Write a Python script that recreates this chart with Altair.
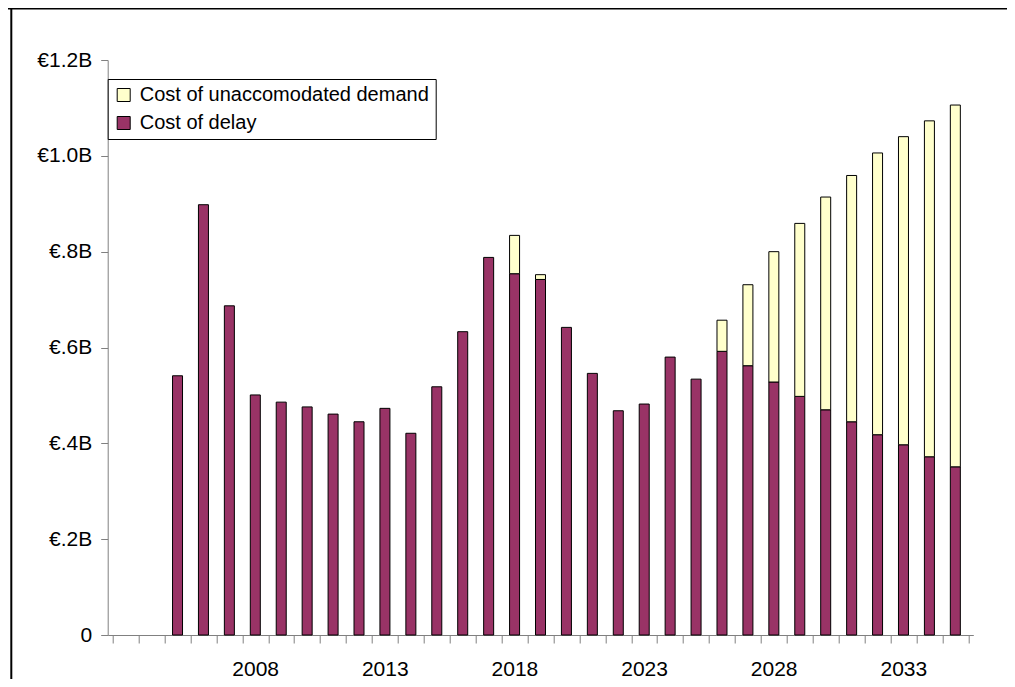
import json
import altair as alt
import pandas as pd

# ---- data (values in billions of euro) ----
years = list(range(2005, 2036))
delay = [0.541, 0.898, 0.687, 0.501, 0.486, 0.476, 0.461, 0.445, 0.473, 0.421,
         0.518, 0.633, 0.788, 0.754, 0.742, 0.642, 0.546, 0.468, 0.482, 0.580,
         0.534, 0.592, 0.562, 0.528, 0.498, 0.470, 0.445, 0.418, 0.397, 0.372,
         0.351]
unaccommodated = [0, 0, 0, 0, 0, 0, 0, 0, 0, 0,
                  0, 0, 0, 0.080, 0.010, 0, 0, 0, 0, 0,
                  0, 0.065, 0.169, 0.272, 0.361, 0.444, 0.514, 0.588, 0.643, 0.701,
                  0.755]
axis_years = list(range(2003, 2036))
label_years = [2008, 2013, 2018, 2023, 2028, 2033]
y_ticks = [0, 0.2, 0.4, 0.6, 0.8, 1.0, 1.2]
y_labels = ["0", "€.2B", "€.4B", "€.6B", "€.8B", "€1.0B", "€1.2B"]
series = ["Cost of unaccomodated demand", "Cost of delay"]
colors = ["#FFFFCC", "#993366"]

rows = []
for i, yr in enumerate(years):
    rows.append({"year": yr, "series": series[1], "value": delay[i], "stackorder": 0})
    rows.append({"year": yr, "series": series[0], "value": unaccommodated[i], "stackorder": 1})
df = pd.DataFrame(rows)

W = 865.6
H = 575
PAD_L, PAD_T = 99.7, 52
SVG_W, SVG_H = 999, 671
step = W / len(axis_years)
FONT = "Liberation Sans"
AXIS_GRAY = "#808080"

tick_vals = [y - 0.5 for y in axis_years] + [axis_years[-1] + 0.5]
x_label_expr = ("indexof(%s, datum.value - 0.5) >= 0 ? toString(datum.value - 0.5) : ''"
                % json.dumps(label_years))
y_label_expr = "%s[round(datum.value * 5)]" % json.dumps(y_labels, ensure_ascii=False)

bars = alt.Chart(df).transform_filter("datum.value > 0").mark_bar(
    size=10, stroke="black", strokeWidth=1
).encode(
    x=alt.X("year:Q",
            scale=alt.Scale(domain=[axis_years[0] - 0.5, axis_years[-1] + 0.5], nice=False, zero=False),
            axis=alt.Axis(values=tick_vals, labelExpr=x_label_expr, labelOffset=-step / 2,
                          tickSize=8, labelPadding=15, labelFlush=False, labelOverlap=False,
                          labelBound=False, title=None, grid=False,
                          domainColor=AXIS_GRAY, tickColor=AXIS_GRAY,
                          labelFont=FONT, labelFontSize=21, labelColor="black")),
    y=alt.Y("value:Q", stack="zero",
            scale=alt.Scale(domain=[0, 1.2], nice=False),
            axis=alt.Axis(values=y_ticks, labelExpr=y_label_expr, title=None, grid=False,
                          tickSize=7, labelPadding=9,
                          domainColor=AXIS_GRAY, tickColor=AXIS_GRAY,
                          labelFont=FONT, labelFontSize=21, labelColor="black")),
    color=alt.Color("series:N",
                    scale=alt.Scale(domain=series, range=colors),
                    legend=alt.Legend(orient="none", legendX=0, legendY=19, title=None,
                                      strokeColor="black", fillColor="white", padding=6,
                                      symbolType="square", symbolSize=169,
                                      symbolStrokeColor="black", symbolStrokeWidth=1,
                                      labelFont=FONT, labelFontSize=20, labelColor="black",
                                      labelLimit=500, rowPadding=8, labelOffset=6,
                                      cornerRadius=0)),
    order=alt.Order("stackorder:Q"),
)

dummy = pd.DataFrame({"a": [0]})
frame_left = alt.Chart(dummy).mark_rule(color="black", strokeWidth=2).encode(
    x=alt.value(-96.4), y=alt.value(-PAD_T), y2=alt.value(SVG_H - PAD_T))
frame_top = alt.Chart(dummy).mark_rule(color="black", strokeWidth=2).encode(
    x=alt.value(-PAD_L), x2=alt.value(SVG_W - PAD_L), y=alt.value(-PAD_T + 0.5))

chart = alt.layer(frame_left, frame_top, bars).properties(
    width=W, height=H,
    autosize=alt.AutoSizeParams(type="none"),
    padding={"left": PAD_L, "top": PAD_T, "right": SVG_W - PAD_L - W, "bottom": SVG_H - PAD_T - H},
    background="white",
).configure_view(stroke=None)

chart.save("out.html", embed_options={"renderer": "svg", "actions": False})
